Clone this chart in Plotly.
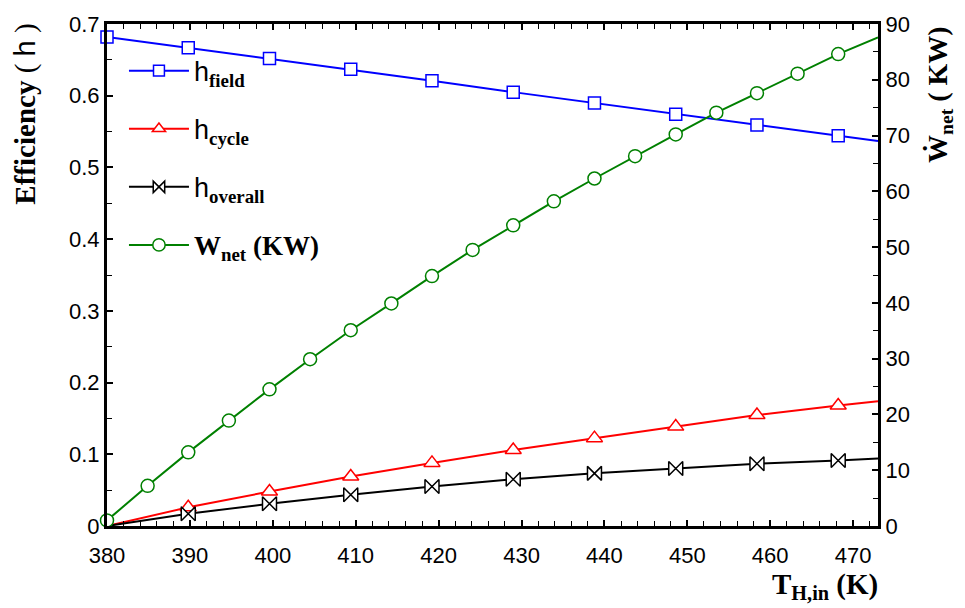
import plotly.graph_objects as go

# ---------------- data ----------------
T_eff = [380.0, 389.8, 399.6, 409.4, 419.2, 429.0, 438.8, 448.6, 458.4, 468.2, 473.0]
eta_field = [0.682, 0.667, 0.652, 0.637, 0.621, 0.605, 0.590, 0.574, 0.559, 0.544, 0.537]
eta_cycle = [0.0, 0.026, 0.048, 0.069, 0.088, 0.106, 0.1225, 0.1386, 0.1547, 0.168, 0.174]
eta_overall = [0.0, 0.017, 0.031, 0.0436, 0.055, 0.0652, 0.0734, 0.0803, 0.0867, 0.0913, 0.0941]

T_w = [380.0, 384.9, 389.8, 394.7, 399.6, 404.5, 409.4, 414.3, 419.2, 424.1,
       429.0, 433.9, 438.8, 443.7, 448.6, 453.5, 458.4, 463.3, 468.2, 473.0]
W_net = [1.0, 7.2, 13.2, 18.9, 24.5, 29.9, 35.1, 39.9, 44.8, 49.5,
         53.9, 58.2, 62.3, 66.3, 70.2, 74.1, 77.6, 81.1, 84.6, 87.6]

x_ticks = [380, 390, 400, 410, 420, 430, 440, 450, 460, 470]
y1_ticks = [0, 0.1, 0.2, 0.3, 0.4, 0.5, 0.6, 0.7]
y1_ticktext = ["0", "0.1", "0.2", "0.3", "0.4", "0.5", "0.6", "0.7"]
y2_ticks = [0, 10, 20, 30, 40, 50, 60, 70, 80, 90]

# ---------------- styling ----------------
SANS = "Arial, Liberation Sans"
SERIF = "Times New Roman, Liberation Serif"

def sizes(n, size, skip):
    return [0 if i in skip else size for i in range(n)]

fig = go.Figure()

fig.add_trace(go.Scatter(
    x=T_eff, y=eta_field, mode="lines+markers",
    name='h<sub><span style="font-family:Liberation Serif;font-weight:bold">field</span></sub>',
    line=dict(color="#0000FF", width=2),
    marker=dict(symbol="square", size=sizes(len(T_eff), 12, {10}), color="white", opacity=1,
                line=dict(color="#0000FF", width=1.5)),
    legendgroup="a", cliponaxis=False))

fig.add_trace(go.Scatter(
    x=T_eff, y=eta_cycle, mode="lines+markers",
    name='h<sub><span style="font-family:Liberation Serif;font-weight:bold">cycle</span></sub>',
    line=dict(color="#FF0000", width=2),
    marker=dict(symbol="triangle-up", size=sizes(len(T_eff), 14, {0, 10}), color="white", opacity=1,
                line=dict(color="#FF0000", width=1.5)),
    legendgroup="b", cliponaxis=False))

fig.add_trace(go.Scatter(
    x=T_eff, y=eta_overall, mode="lines+markers",
    name='h<sub><span style="font-family:Liberation Serif;font-weight:bold">overall</span></sub>',
    line=dict(color="#000000", width=2),
    marker=dict(symbol="bowtie", size=sizes(len(T_eff), 14, {0, 10}), color="white", opacity=1,
                line=dict(color="#000000", width=1.5)),
    legendgroup="c", cliponaxis=False))

fig.add_trace(go.Scatter(
    x=T_w, y=W_net, mode="lines+markers", yaxis="y2",
    name='<span style="font-family:Liberation Serif"><b>W<sub>net</sub> (KW)</b></span>',
    line=dict(color="#008000", width=2),
    marker=dict(symbol="circle", size=sizes(len(T_w), 13, {19}), color="white", opacity=1,
                line=dict(color="#008000", width=1.5)),
    legendgroup="d", cliponaxis=False))

axis_common = dict(
    showline=True, linecolor="black", linewidth=3, showgrid=False, zeroline=False,
    ticks="inside", ticklen=6, tickwidth=1.5, tickcolor="black",
    tickfont=dict(family=SANS, size=22, color="black"),
)

fig.update_layout(
    width=965, height=608,
    margin=dict(l=107, r=87, t=17, b=82),
    paper_bgcolor="white", plot_bgcolor="white",
    showlegend=True,
    legend=dict(
        x=0.022, y=0.955, xanchor="left", yanchor="top",
        bgcolor="rgba(0,0,0,0)", borderwidth=0,
        font=dict(family=SANS, size=27, color="black"),
        itemwidth=60,
        tracegroupgap=20,
    ),
    xaxis=dict(range=[380, 473], tickvals=x_ticks, mirror="ticks",
               minor=dict(dtick=2, ticklen=5, tickwidth=1.2, tickcolor="black", ticks="inside"),
               ticklabelstandoff=8,
               **axis_common),
    yaxis=dict(range=[0, 0.7], tickvals=y1_ticks, ticktext=y1_ticktext,
               minor=dict(dtick=0.05, ticklen=5, tickwidth=1.2, tickcolor="black", ticks="inside"),
               **axis_common),
    yaxis2=dict(range=[0, 90], tickvals=y2_ticks, overlaying="y", side="right",
                minor=dict(dtick=5, ticklen=5, tickwidth=1.2, tickcolor="black", ticks="inside"),
                **axis_common),
)

# axis titles as annotations (positioned like the reference)
fig.add_annotation(
    xref="paper", yref="paper", x=-0.106, y=0.82, textangle=-90, showarrow=False,
    text='<b>Efficiency</b> ( <span style="font-family:Liberation Sans">h</span> )',
    font=dict(family=SERIF, size=29, color="black"), xanchor="center", yanchor="middle")

fig.add_annotation(
    xref="paper", yref="paper", x=1.08, y=0.86, textangle=-90, showarrow=False,
    text='<b>Ẇ<sub>net</sub> ( KW)</b>',
    font=dict(family=SERIF, size=28, color="black"), xanchor="center", yanchor="middle")

fig.add_annotation(
    xref="paper", yref="paper", x=1.003, y=-0.12, showarrow=False,
    text='<b>T<sub>H,in</sub> (K)</b>',
    font=dict(family=SERIF, size=29, color="black"), xanchor="right", yanchor="middle")

fig.write_html("out.html", config={"displayModeBar": False},
               post_script="document.body.style.margin='0';")
